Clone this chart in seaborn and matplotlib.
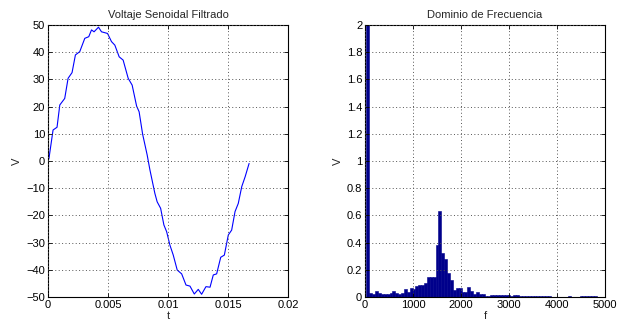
import matplotlib
matplotlib.use("Agg")
import matplotlib.pyplot as plt
import seaborn as sns
from matplotlib.ticker import FormatStrFormatter

# ─────────────────────────────────────────────
# Data
# ─────────────────────────────────────────────

t_vals = [0, 0.00008, 0.00042, 0.00075, 0.00098, 0.00139, 0.00167, 0.0020, 0.00228,
          0.00264, 0.00306, 0.00339, 0.00362, 0.00383, 0.0042, 0.00445, 0.00495,
          0.00528, 0.00556, 0.00592, 0.00625, 0.00667, 0.0070, 0.00737, 0.00758,
          0.00787, 0.00825, 0.00848, 0.00889, 0.00908, 0.00937, 0.00964, 0.00987,
          0.01014, 0.01042, 0.01075, 0.01112, 0.01148, 0.01181, 0.01217, 0.0125,
          0.01278, 0.01314, 0.01348, 0.01375, 0.01403, 0.01437, 0.01467, 0.015,
          0.01528, 0.01556, 0.01583, 0.01612, 0.0164, 0.01673]
v_vals = [0, 1.0, 11.4, 12.4, 20.6, 23.0, 30.4, 32.5, 39.0, 40.2, 45.1, 45.7, 48.2,
          47.5, 49.2, 47.5, 46.9, 43.9, 42.6, 38.3, 37.1, 30.4, 27.9, 20.2, 18.1,
          9.9, 2.2, -3.3, -11.9, -15.0, -17.4, -23.5, -26.0, -30.9, -34.6, -40.1,
          -41.5, -45.6, -46.0, -48.9, -47.2, -49.0, -46.2, -46.4, -41.9, -41.5,
          -35.4, -34.6, -27.2, -25.4, -18.6, -15.6, -9.4, -5.8, -0.9]

freqs = [60, 120, 180, 240, 300, 360, 420, 480, 540, 600,
         660, 720, 780, 840, 900, 960, 1020, 1080, 1140, 1200,
         1260, 1320, 1380, 1440, 1500, 1560, 1620, 1680, 1740, 1800,
         1860, 1920, 1980, 2040, 2100, 2160, 2220, 2280, 2340, 2400,
         2460, 2520, 2580, 2640, 2700, 2760, 2820, 2880, 2940, 3000,
         3060, 3120, 3180, 3240, 3300, 3360, 3420, 3480, 3540, 3600,
         3660, 3720, 3780, 3840, 3900, 3960, 4020, 4080, 4140, 4200,
         4260, 4320, 4380, 4440, 4500, 4560, 4620, 4680, 4740, 4800,
         4860]
mags = [48, 0.032, 0.024, 0.044, 0.030, 0.020, 0.024, 0.024, 0.030, 0.044,
        0.030, 0.024, 0.030, 0.061, 0.037, 0.068, 0.061, 0.082, 0.088, 0.085,
        0.105, 0.148, 0.145, 0.145, 0.380, 0.630, 0.320, 0.280, 0.180, 0.125,
        0.055, 0.063, 0.063, 0.038, 0.040, 0.070, 0.045, 0.025, 0.040, 0.025,
        0.020, 0.008, 0.008, 0.015, 0.017, 0.015, 0.012, 0.015, 0.012, 0.012,
        0.010, 0.012, 0.016, 0.008, 0.008, 0.005, 0.005, 0.005, 0.010, 0.010,
        0.005, 0.005, 0.004, 0.004, 0.003, 0.003, 0.003, 0.003, 0.003, 0.003,
        0.005, 0.003, 0.002, 0.002, 0.007, 0.007, 0.007, 0.006, 0.004, 0.004,
        0.003]

# ─────────────────────────────────────────────
# Style (MATLAB-like boxed axes with dotted grid)
# ─────────────────────────────────────────────

sns.set_theme(style="white")
plt.rcParams["font.family"] = ["Liberation Sans", "DejaVu Sans"]
FS = 8


def matlab_axes(ax):
    for s in ax.spines.values():
        s.set_visible(True)
        s.set_color("black")
        s.set_linewidth(0.8)
    ax.tick_params(direction="in", length=3, width=0.6, top=True, right=True,
                   labelsize=FS, colors="black", pad=2,
                   bottom=True, left=True)
    ax.grid(True, linestyle=(0, (1, 2.5)), color="#555555", linewidth=0.7)
    ax.set_axisbelow(False)


fig = plt.figure(figsize=(6.26, 3.29), dpi=100)
ax1 = fig.add_axes([0.0767, 0.0973, 0.384, 0.8267])
ax2 = fig.add_axes([0.5831, 0.0973, 0.3834, 0.8267])

# Left: filtered sine voltage
sns.lineplot(x=t_vals, y=v_vals, ax=ax1, sort=False, estimator=None,
             color="#0000FF", linewidth=0.8)
ax1.set_xlim(0, 0.02)
ax1.set_ylim(-50, 50)
ax1.set_xticks([0, 0.005, 0.01, 0.015, 0.02])
ax1.set_yticks(range(-50, 51, 10))
ax1.xaxis.set_major_formatter(FormatStrFormatter("%g"))
ax1.set_title("Voltaje Senoidal Filtrado", fontsize=FS, pad=5)
ax1.set_xlabel("t", fontsize=FS, labelpad=1)
ax1.set_ylabel("V", fontsize=FS, labelpad=3)
matlab_axes(ax1)

# Right: frequency domain
sns.barplot(x=freqs, y=mags, ax=ax2, native_scale=True, color="#00008B",
            saturation=1, width=1.0, linewidth=0.4, edgecolor="#00008B",
            errorbar=None)
ax2.set_xlim(0, 5000)
ax2.set_ylim(0, 2)
ax2.set_xticks(range(0, 5001, 1000))
ax2.set_yticks([0, 0.2, 0.4, 0.6, 0.8, 1, 1.2, 1.4, 1.6, 1.8, 2])
ax2.yaxis.set_major_formatter(FormatStrFormatter("%g"))
ax2.set_title("Dominio de Frecuencia", fontsize=FS, pad=5)
ax2.set_xlabel("f", fontsize=FS, labelpad=1)
ax2.set_ylabel("V", fontsize=FS, labelpad=3)
matlab_axes(ax2)

fig.savefig("out.png", dpi=100, facecolor="white")
